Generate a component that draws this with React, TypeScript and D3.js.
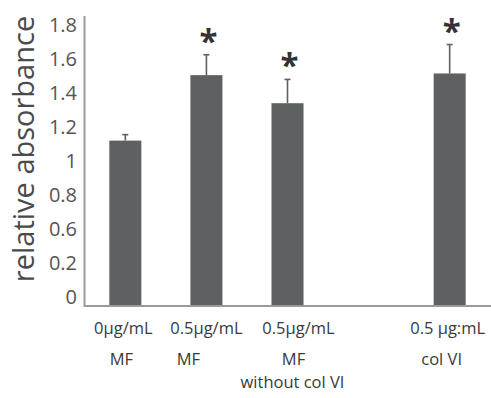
import React from "react";
import * as d3 from "d3";

const categories = ["0µg/mL MF", "0.5µg/mL MF", "0.5µg/mL MF without col VI", "gap", "0.5 µg:mL col VI"];
const barKeys = ["0µg/mL MF", "0.5µg/mL MF", "0.5µg/mL MF without col VI", "0.5 µg:mL col VI"];
const means = [1.12, 1.505, 1.34, 1.515];
const errors = [0.035, 0.12, 0.14, 0.17];
const significant = [false, true, true, true];
const line1 = ["0µg/mL", "0.5µg/mL", "0.5µg/mL", "0.5 µg:mL"];
const line2 = ["MF", "MF", "MF", "col VI"];
const line3 = ["", "", "without col VI", ""];
const yTickLabels = ["0", "0.2", "0.6", "0.8", "1", "1.2", "1.4", "1.6", "1.8"];
const yTickAt = [0.2, 0.4, 0.6, 0.8, 1.0, 1.2, 1.4, 1.6, 1.8];

// layout constants
const W = 491, H = 398;
const axisX = 84.5, axisY = 306;
const line1Dx = [-2, 0, 11, -2];
const line2Dx = [-4, -18, 6, -8];

export default function App() {
  const x = d3.scaleBand<string>().domain(categories).range([85, 490]).paddingInner(0.605).paddingOuter(0.3);
  const y = d3.scaleLinear().domain([0.2, 1.8]).range([297, 25]);
  const font = "'Open Sans', sans-serif";
  const xFs = 16.5;
  return (
    <svg width={W} height={H} style={{ position: "absolute", left: 0, top: 0, background: "#fff" }}>
      <text transform={`translate(34,${149}) rotate(-90)`} textAnchor="middle" fontFamily={font} fontSize={29} fill="#4a4a4a">relative absorbance</text>
      {yTickLabels.map((t, i) => (
        <text key={t} x={77} y={y(yTickAt[i])} dy="0.35em" textAnchor="end" fontFamily={font} fontSize={20} fill="#555">{t}</text>
      ))}
      {barKeys.map((k, i) => {
        const cx = (x(k) as number) + x.bandwidth() / 2;
        const top = y(means[i]);
        const cap = y(means[i] + errors[i]);
        return (
          <g key={k}>
            <line x1={cx} x2={cx} y1={top} y2={cap} stroke="#5e6161" strokeWidth={1.6} />
            <line x1={cx - 3} x2={cx + 3} y1={cap} y2={cap} stroke="#5e6161" strokeWidth={1.6} />
            <rect x={x(k)} y={top} width={x.bandwidth()} height={axisY - top} fill="#5e6161" />
            {significant[i] && (
              <text x={cx + 2} y={cap - 2} textAnchor="middle" fontFamily={font} fontSize={33} fontWeight="bold" fill="#333">*</text>
            )}
            <text x={cx + line1Dx[i]} y={328} dy="0.35em" textAnchor="middle" fontFamily={font} fontSize={xFs} fill="#3a3a3a">{line1[i]}</text>
            <text x={cx + line2Dx[i]} y={359} dy="0.35em" textAnchor="middle" fontFamily={font} fontSize={xFs} fill="#3a3a3a">{line2[i]}</text>
            {line3[i] && (
              <text x={cx + 5} y={382} dy="0.35em" textAnchor="middle" fontFamily={font} fontSize={xFs} fill="#3a3a3a">{line3[i]}</text>
            )}
          </g>
        );
      })}
      <line x1={axisX} x2={axisX} y1={16} y2={axisY + 1} stroke="#9a9a9a" strokeWidth={2} />
      <line x1={axisX} x2={W} y1={axisY} y2={axisY} stroke="#9a9a9a" strokeWidth={2} />
    </svg>
  );
}
